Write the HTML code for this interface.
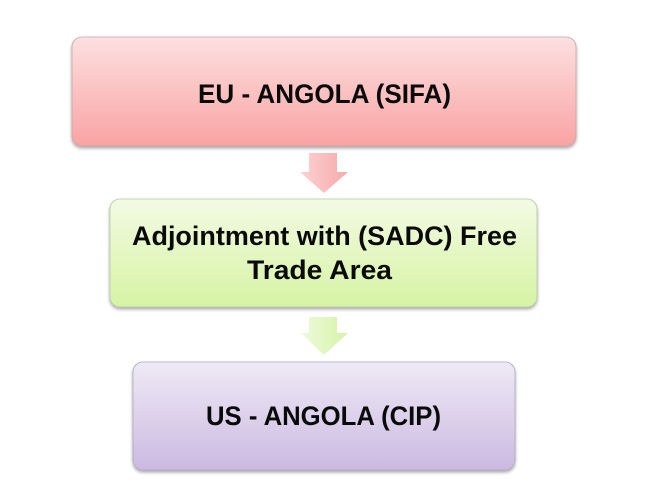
<!DOCTYPE html>
<html><head><meta charset="utf-8"><style>
html,body{margin:0;padding:0;background:#fff;}
svg{display:block;}
text{font-family:"Liberation Sans",Arial,sans-serif;font-weight:bold;fill:#0a0a0a;}
</style></head><body>
<svg width="650" height="500" viewBox="0 0 650 500" xmlns="http://www.w3.org/2000/svg">
<defs>
<linearGradient id="g1" x1="0" y1="0" x2="0" y2="1">
<stop offset="0" stop-color="#fde0e0"/><stop offset="1" stop-color="#f9a3a3"/></linearGradient>
<linearGradient id="g2" x1="0" y1="0" x2="0" y2="1">
<stop offset="0" stop-color="#f3fbe3"/><stop offset="1" stop-color="#d6f3a4"/></linearGradient>
<linearGradient id="g3" x1="0" y1="0" x2="0" y2="1">
<stop offset="0" stop-color="#efeaf6"/><stop offset="1" stop-color="#cbb9e1"/></linearGradient>
<linearGradient id="a1" x1="0" y1="0" x2="1" y2="0">
<stop offset="0" stop-color="#fdd3d3"/><stop offset="1" stop-color="#f7a9a9"/></linearGradient>
<linearGradient id="a2" x1="0" y1="0" x2="1" y2="0">
<stop offset="0" stop-color="#eefadb"/><stop offset="1" stop-color="#d6f3a8"/></linearGradient>
<filter id="sh" x="-5%" y="-10%" width="110%" height="125%">
<feDropShadow dx="0" dy="2" stdDeviation="1.5" flood-color="#000" flood-opacity="0.35"/>
</filter>
</defs>
<rect x="72" y="37" width="504" height="109" rx="10" fill="url(#g1)" stroke="#c9a5a5" stroke-width="0.8" filter="url(#sh)"/>
<rect x="110" y="199" width="427" height="108" rx="10" fill="url(#g2)" stroke="#b9c8a4" stroke-width="0.8" filter="url(#sh)"/>
<rect x="133" y="362" width="382" height="108" rx="10" fill="url(#g3)" stroke="#b3a9c2" stroke-width="0.8" filter="url(#sh)"/>
<polygon points="309,153 337,153 337,172 348,172 324,193 300,172 309,172" fill="url(#a1)"/>
<polygon points="309,317 337,317 337,333 348,333 324,355 301,333 309,333" fill="url(#a2)"/>
<text x="198" y="103" font-size="27" textLength="253" lengthAdjust="spacingAndGlyphs">EU - ANGOLA (SIFA)</text>
<text x="132" y="245" font-size="27" textLength="385" lengthAdjust="spacingAndGlyphs">Adjointment with (SADC) Free</text>
<text x="247" y="279" font-size="27" textLength="145" lengthAdjust="spacingAndGlyphs">Trade Area</text>
<text x="206" y="425" font-size="27" textLength="235" lengthAdjust="spacingAndGlyphs">US - ANGOLA (CIP)</text>
</svg>
</body></html>
